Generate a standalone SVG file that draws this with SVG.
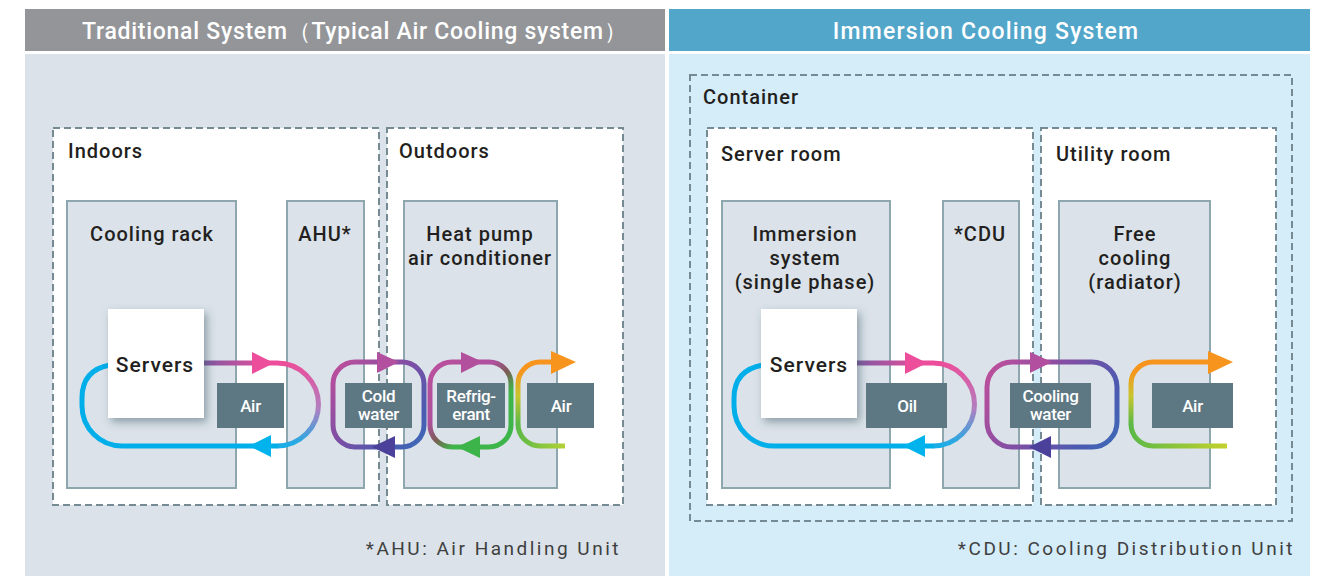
<svg xmlns="http://www.w3.org/2000/svg" width="1320" height="576" viewBox="0 0 1320 576">
<style>
.hdr{font-family:Roboto,'Liberation Sans',sans-serif;font-size:23px;font-weight:500;fill:#fff;text-anchor:middle;letter-spacing:1.2px}
.dash{fill:#fff;stroke:#768a93;stroke-width:2;stroke-dasharray:7 4}
.dashn{fill:none;stroke:#768a93;stroke-width:2;stroke-dasharray:7 4}
.unit{fill:#dbe2e9;stroke:#8ea6ae;stroke-width:2}
.lbl{font-family:Roboto,'Liberation Sans',sans-serif;font-size:20px;font-weight:500;fill:#231f20;letter-spacing:1px}
.c{text-anchor:middle}
.srv{fill:#fff}
.tag{fill:#5e7883}
.tagt{font-family:Roboto,'Liberation Sans',sans-serif;font-size:17px;font-weight:500;fill:#fff;text-anchor:middle;letter-spacing:-0.3px}
.foot{font-family:Roboto,'Liberation Sans',sans-serif;font-size:19px;font-weight:400;fill:#3f3f3f;text-anchor:end;letter-spacing:2.5px}
.ln{fill:none;stroke-width:5}
</style>
<defs>
<filter id="sh" x="-30%" y="-30%" width="160%" height="160%">
<feDropShadow dx="3" dy="4" stdDeviation="4" flood-color="#3e5a66" flood-opacity="0.5"/>
</filter>
<linearGradient id="gTopL" gradientUnits="userSpaceOnUse" x1="204" y1="0" x2="270" y2="0"><stop offset="0" stop-color="#7e58a2"/><stop offset="1" stop-color="#ec4e9b"/></linearGradient>
<linearGradient id="gTopR" gradientUnits="userSpaceOnUse" x1="857" y1="0" x2="923" y2="0"><stop offset="0" stop-color="#7e58a2"/><stop offset="1" stop-color="#ec4e9b"/></linearGradient>
<linearGradient id="gArc" gradientUnits="userSpaceOnUse" x1="0" y1="363" x2="0" y2="446"><stop offset="0" stop-color="#ec4e9b"/><stop offset="0.55" stop-color="#b07fc0"/><stop offset="1" stop-color="#18aee7"/></linearGradient>
<linearGradient id="gCW" gradientUnits="userSpaceOnUse" x1="333" y1="361" x2="424" y2="447"><stop offset="0" stop-color="#c24f9b"/><stop offset="0.45" stop-color="#7f4ea4"/><stop offset="0.8" stop-color="#4a5bb1"/><stop offset="1" stop-color="#3e6ab8"/></linearGradient>
<linearGradient id="gCW2" gradientUnits="userSpaceOnUse" x1="987" y1="362" x2="1117" y2="447"><stop offset="0" stop-color="#c24f9b"/><stop offset="0.45" stop-color="#7f4ea4"/><stop offset="0.8" stop-color="#4a5bb1"/><stop offset="1" stop-color="#3e6ab8"/></linearGradient>
<linearGradient id="gRef" gradientUnits="userSpaceOnUse" x1="429" y1="361" x2="511" y2="447"><stop offset="0" stop-color="#bb509d"/><stop offset="0.38" stop-color="#ae509e"/><stop offset="0.52" stop-color="#7b5c56"/><stop offset="0.66" stop-color="#3fb54a"/><stop offset="1" stop-color="#3cb54a"/></linearGradient>
<linearGradient id="gAirB1" gradientUnits="userSpaceOnUse" x1="565" y1="0" x2="517" y2="0"><stop offset="0" stop-color="#b3d236"/><stop offset="1" stop-color="#5cb947"/></linearGradient>
<linearGradient id="gAirV1" gradientUnits="userSpaceOnUse" x1="0" y1="424" x2="0" y2="362"><stop offset="0" stop-color="#5cb947"/><stop offset="0.45" stop-color="#c8c52f"/><stop offset="0.85" stop-color="#f6951d"/><stop offset="1" stop-color="#f7941d"/></linearGradient>
<linearGradient id="gAirB2" gradientUnits="userSpaceOnUse" x1="1227" y1="0" x2="1131" y2="0"><stop offset="0" stop-color="#c3d12c"/><stop offset="1" stop-color="#5cb947"/></linearGradient>
<linearGradient id="gAirV2" gradientUnits="userSpaceOnUse" x1="0" y1="424" x2="0" y2="362"><stop offset="0" stop-color="#5cb947"/><stop offset="0.45" stop-color="#c8c52f"/><stop offset="0.85" stop-color="#f6951d"/><stop offset="1" stop-color="#f7941d"/></linearGradient>
</defs>

<!-- panels -->
<g id="panel-left">
<rect x="25" y="9" width="640" height="42" fill="#939598"/>
<text class="hdr" x="355" y="39" textLength="546" lengthAdjust="spacing">Traditional System（Typical Air Cooling system）</text>
<rect x="25" y="54" width="640" height="522" fill="#dbe2e9"/>
</g>
<g id="panel-right">
<rect x="669" y="9" width="641" height="42" fill="#52a6ca"/>
<text class="hdr" x="986" y="39">Immersion Cooling System</text>
<rect x="669" y="54" width="641" height="522" fill="#d5ecf9"/>
</g>

<!-- zones -->
<g id="zone-indoors"><rect class="dash" x="53" y="128" width="326" height="377"/><text class="lbl" x="68" y="158">Indoors</text></g>
<g id="zone-outdoors"><rect class="dash" x="387" y="128" width="236" height="377"/><text class="lbl" x="399" y="158">Outdoors</text></g>
<g id="zone-container"><rect class="dashn" x="690" y="75" width="602" height="446"/><text class="lbl" x="703" y="104">Container</text></g>
<g id="zone-server-room"><rect class="dash" x="707" y="128" width="326" height="377"/><text class="lbl" x="721" y="161">Server room</text></g>
<g id="zone-utility-room"><rect class="dash" x="1041" y="128" width="235" height="377"/><text class="lbl" x="1056" y="161">Utility room</text></g>

<!-- units -->
<g id="cooling-rack"><rect class="unit" x="67" y="201" width="169" height="287"/><text class="lbl c" x="152" y="241">Cooling rack</text></g>
<g id="ahu"><rect class="unit" x="287" y="201" width="77" height="287"/><text class="lbl c" x="325" y="241">AHU*</text></g>
<g id="heat-pump"><rect class="unit" x="404" y="201" width="153" height="287"/><text class="lbl c" x="480" y="241">Heat pump</text><text class="lbl c" x="480" y="265">air conditioner</text></g>
<g id="immersion"><rect class="unit" x="722" y="201" width="168" height="287"/><text class="lbl c" x="805" y="241">Immersion</text><text class="lbl c" x="805" y="265">system</text><text class="lbl c" x="805" y="289">(single phase)</text></g>
<g id="cdu"><rect class="unit" x="943" y="201" width="76" height="287"/><text class="lbl c" x="980" y="241">*CDU</text></g>
<g id="free-cooling"><rect class="unit" x="1059" y="201" width="151" height="287"/><text class="lbl c" x="1135" y="241">Free</text><text class="lbl c" x="1135" y="265">cooling</text><text class="lbl c" x="1135" y="289">(radiator)</text></g>

<!-- connectors / loops -->
<g id="connectors">
<!-- left air loop -->
<path class="ln" stroke="url(#gTopL)" d="M204 363 H277"/>
<path class="ln" stroke="url(#gArc)" d="M277 363 A41.5 41.5 0 0 1 277 446"/>
<path class="ln" stroke="#00aeea" d="M277.5 446 H122 A40 40 0 0 1 82 406 V398 Q82 370 110 365"/>
<polygon points="252,352 274,363 252,374" fill="#ec4e9b"/>
<polygon points="249,446 271,435 271,457" fill="#00b3ec"/>
<!-- cold water loop -->
<rect class="ln" stroke="url(#gCW)" x="333" y="362" width="91" height="85" rx="22"/>
<polygon points="377,352 399,362 377,373" fill="#b24f9f"/>
<polygon points="372,447 395,436 395,458" fill="#4b419a"/>
<!-- refrigerant loop -->
<rect class="ln" stroke="url(#gRef)" x="430" y="362" width="81" height="85" rx="22"/>
<polygon points="461,352 483,362 461,373" fill="#b3509e"/>
<polygon points="457,447 480,436 480,458" fill="#3cb44a"/>
<!-- outdoor air loop -->
<path class="ln" stroke="url(#gAirB1)" d="M565 446 H540 A22 22 0 0 1 518 424"/>
<path class="ln" stroke="url(#gAirV1)" d="M518 424.5 V384 A22 22 0 0 1 540 362 H553"/>
<polygon points="551,351 576,362 551,374" fill="#f7941d"/>

<!-- oil loop -->
<path class="ln" stroke="url(#gTopR)" d="M857 363 H933"/>
<path class="ln" stroke="url(#gArc)" d="M933 363 A41.5 41.5 0 0 1 933 446"/>
<path class="ln" stroke="#00aeea" d="M933.5 446 H774 A40 40 0 0 1 734 406 V398 Q734 370 763 365"/>
<polygon points="905,352 927,363 905,374" fill="#ec4e9b"/>
<polygon points="903,446 925,435 925,457" fill="#00b3ec"/>
<!-- cooling water loop -->
<rect class="ln" stroke="url(#gCW2)" x="987" y="362" width="130" height="85" rx="25"/>
<polygon points="1030,352 1052,362 1030,373" fill="#b24f9f"/>
<polygon points="1029,447 1051,436 1051,458" fill="#4b419a"/>
<!-- radiator air loop -->
<path class="ln" stroke="url(#gAirB2)" d="M1227 446 H1153 A22 22 0 0 1 1131 424"/>
<path class="ln" stroke="url(#gAirV2)" d="M1131 424.5 V384 A22 22 0 0 1 1153 362 H1210"/>
<polygon points="1208,351 1233,362 1208,374" fill="#f7941d"/>
</g>

<!-- servers -->
<g id="servers-left"><rect class="srv" x="108" y="309" width="96" height="109" filter="url(#sh)"/><text class="lbl c" x="155" y="372" style="font-size:21px">Servers</text></g>
<g id="servers-right"><rect class="srv" x="761" y="309" width="96" height="109" filter="url(#sh)"/><text class="lbl c" x="809" y="372" style="font-size:21px">Servers</text></g>

<!-- medium tags -->
<g id="tag-air-1"><rect class="tag" x="217" y="383" width="67" height="45"/><text class="tagt" x="250.5" y="412">Air</text></g>
<g id="tag-cold-water"><rect class="tag" x="345" y="383" width="67" height="45"/><text class="tagt" x="378.5" y="402">Cold</text><text class="tagt" x="378.5" y="420">water</text></g>
<g id="tag-refrigerant"><rect class="tag" x="437" y="383" width="68" height="45"/><text class="tagt" x="471" y="402">Refrig-</text><text class="tagt" x="471" y="420">erant</text></g>
<g id="tag-air-2"><rect class="tag" x="527" y="383" width="67" height="45"/><text class="tagt" x="561" y="412">Air</text></g>
<g id="tag-oil"><rect class="tag" x="866" y="383" width="81" height="45"/><text class="tagt" x="907" y="412">Oil</text></g>
<g id="tag-cooling-water"><rect class="tag" x="1010" y="383" width="81" height="45"/><text class="tagt" x="1050.5" y="402">Cooling</text><text class="tagt" x="1050.5" y="420">water</text></g>
<g id="tag-air-3"><rect class="tag" x="1152" y="383" width="81" height="45"/><text class="tagt" x="1192.5" y="412">Air</text></g>

<!-- footnotes -->
<text class="foot" x="621" y="555">*AHU: Air Handling Unit</text>
<text class="foot" x="1295" y="555">*CDU: Cooling Distribution Unit</text>
</svg>
